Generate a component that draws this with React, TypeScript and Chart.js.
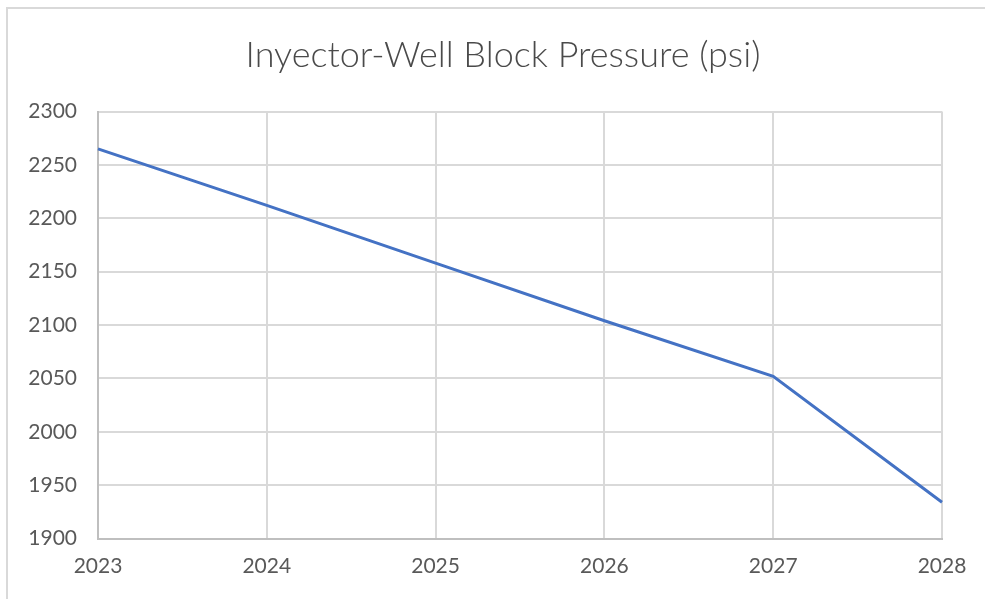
import React, { useEffect, useRef } from "react";
import { Chart, registerables } from "chart.js";

Chart.register(...registerables);

const years = ["2023", "2024", "2025", "2026", "2027", "2028"];
const pressure = [2265, 2212, 2158, 2104, 2052, 1934];
const yMin = 1900;
const yMax = 2300;
const yStep = 50;
const titleText = "Inyector-Well Block Pressure (psi)";

const framePlugin = {
  id: "frame",
  afterLayout(chart: any) {
    const tb = chart.titleBlock;
    if (tb) {
      tb.left = 20;
      tb.right = chart.width;
      tb.width = chart.width - 20;
    }
  },
  beforeDraw(chart: any) {
    const ctx = chart.ctx;
    ctx.save();
    ctx.fillStyle = "#ffffff";
    ctx.fillRect(0, 0, chart.width, chart.height);
    ctx.strokeStyle = "#d9d9d9";
    ctx.lineWidth = 2;
    ctx.beginPath();
    ctx.moveTo(7, chart.height);
    ctx.lineTo(7, 8);
    ctx.lineTo(chart.width - 1, 8);
    ctx.stroke();
    ctx.restore();
  },
};

export default function App() {
  const ref = useRef<HTMLCanvasElement | null>(null);
  useEffect(() => {
    if (!ref.current) return;
    const font = "Lato, 'Open Sans', sans-serif";
    const chart = new Chart(ref.current, {
      type: "line",
      data: {
        labels: years,
        datasets: [
          {
            data: pressure,
            borderColor: "#4472C4",
            borderWidth: 3,
            pointRadius: 0,
            tension: 0,
            fill: false,
          },
        ],
      },
      options: {
        animation: false,
        responsive: false,
        layout: { padding: { left: 20, right: 44, top: 0, bottom: 0 } },
        plugins: {
          legend: { display: false },
          tooltip: { enabled: false },
          title: {
            display: true,
            text: titleText,
            color: "#4a4a4a",
            font: { family: font, size: 36, weight: 300, lineHeight: 1.2 },
            padding: { top: 33.4, bottom: 34.9 },
          },
        },
        scales: {
          x: {
            offset: false,
            grid: { color: "#d9d9d9", lineWidth: 2, drawTicks: false },
            border: { color: "#bfbfbf", width: 2 },
            ticks: {
              color: "#595959",
              font: { family: font, size: 21 },
              padding: 15,
              maxRotation: 0,
              autoSkip: false,
            },
            afterFit(scale: any) {
              scale.height = 60.5;
            },
          },
          y: {
            min: yMin,
            max: yMax,
            grid: { color: "#d9d9d9", lineWidth: 2, drawTicks: false },
            border: { color: "#bfbfbf", width: 2 },
            ticks: {
              stepSize: yStep,
              color: "#595959",
              font: { family: font, size: 21 },
              padding: 21,
              callback: (v: any) => String(v),
            },
            afterFit(scale: any) {
              scale.width = 78;
            },
          },
        },
      },
      plugins: [framePlugin],
    });
    return () => chart.destroy();
  }, []);
  return (
    <div style={{ position: "absolute", left: 0, top: 0, width: 986, height: 599 }}>
      <canvas ref={ref} width={986} height={599} style={{ width: 986, height: 599 }} />
    </div>
  );
}
